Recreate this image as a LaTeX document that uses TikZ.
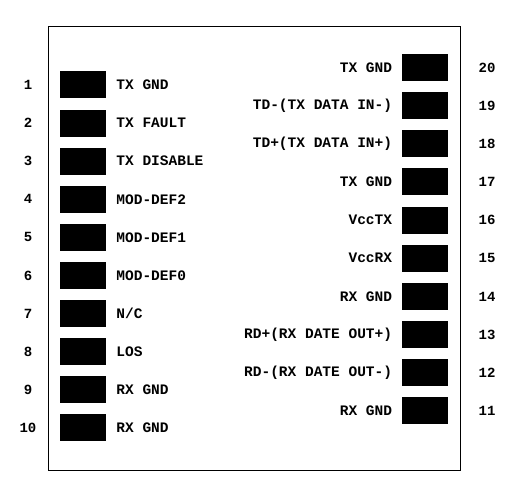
\documentclass[tikz,border=0pt]{standalone}
\usepackage{fontspec}
\setmonofont{Liberation Mono}
\usetikzlibrary{positioning}
\tikzstyle{module} = [rectangle, draw, thin, minimum width=412pt, minimum height=444pt]
\tikzstyle{pad} = [rectangle, fill=black, minimum width=46pt, minimum height=27pt, inner sep=0pt]
\tikzstyle{pinlabel} = [font=\ttfamily\bfseries\fontsize{14.5}{14.5}\selectfont, inner sep=0pt]
\tikzstyle{pinno} = [font=\ttfamily\bfseries\fontsize{14}{14}\selectfont, inner sep=0pt]

\begin{document}
\begin{tikzpicture}[x = 1pt, y = -1pt, node distance = 10pt]
\useasboundingbox (0,0) rectangle (509,484);

% ----------------------------------------------------
% module outline
  \node (module) [module] at (254,248) {};

% left row, pins 1..10
  \foreach \i/\txt in {1/TX GND, 2/TX FAULT, 3/TX DISABLE, 4/MOD-DEF2,
      5/MOD-DEF1, 6/MOD-DEF0, 7/{N/C}, 8/LOS, 9/RX GND, 10/RX GND} {
    \node (padl\i) [pad] at (83, {85 + 38.1*(\i-1)}) {};
    \node (labl\i) [pinlabel, right = 10pt of padl\i] {\txt};
    \node (nol\i) [pinno] at (28, {85 + 38.1*(\i-1)}) {\i};
  }

% right row, pins 11..20
  \foreach \i/\txt in {20/TX GND, 19/TD-(TX DATA IN-), 18/TD+(TX DATA IN+),
      17/TX GND, 16/VccTX, 15/VccRX, 14/RX GND, 13/RD+(RX DATE OUT+),
      12/RD-(RX DATE OUT-), 11/RX GND} {
    \node (padr\i) [pad] at (424.5, {67.5 + 38.15*(20-\i)}) {};
    \node (labr\i) [pinlabel, left = 9pt of padr\i] {\txt};
    \node (nor\i) [pinno] at (487, {67.5 + 38.15*(20-\i)}) {\i};
  }

\end{tikzpicture}
\end{document}
